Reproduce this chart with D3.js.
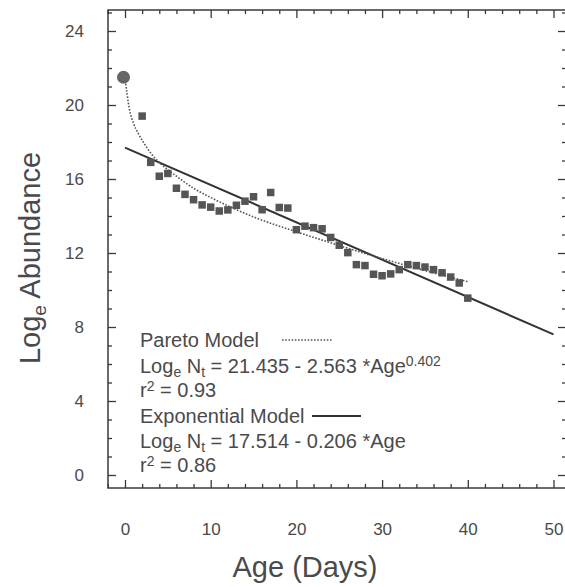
<!doctype html>
<html>
  <head>
    <meta charset="utf-8">
    <title>Log abundance vs age</title>
    <script src="https://cdnjs.cloudflare.com/ajax/libs/d3/7.8.5/d3.min.js"></script>
    <style>
      body { margin: 0; background: #fff; }
      svg { display: block; font-family: "Liberation Sans", Arial, sans-serif; }
    </style>
  </head>
  <body>
    <div id="chart"></div>
    <script>

      const days = [2,3,4,5,6,7,8,9,10,11,12,13,14,15,16,17,18,19,20,21,
                    22,23,24,25,26,27,28,29,30,31,32,33,34,35,36,37,38,39,40];
      const abundance = [19.4,16.9,16.15,16.3,15.5,15.17,14.88,14.6,14.48,14.27,
                         14.33,14.58,14.8,15.04,14.34,15.27,14.46,14.43,13.26,13.45,
                         13.37,13.31,12.84,12.42,12.02,11.37,11.32,10.85,10.77,10.87,
                         11.1,11.37,11.32,11.24,11.1,10.93,10.7,10.38,9.56];

      // initial point (circle)
      const startAge = [0];
      const startValue = [21.5];

      // Pareto model curve
      const paretoAge = [0,0.5,1,1.5,2,3,4,5,6,8,10,12,15,18,20,25,30,35,40];
      const paretoValue = [21.5,19.8,19.0,18.5,18.1,17.4,16.9,16.5,16.15,15.5,
                           15.0,14.55,13.95,13.45,13.15,12.4,11.7,11.05,10.45];

      // exponential model line
      const expAge = [0, 50];
      const expValue = [17.7, 7.6];

      // ticks
      const xMajor = [0,10,20,30,40,50];
      const xMinor = d3.range(-2, 52, 2).filter(d => d % 10 !== 0);
      const yMajor = [0,4,8,12,16,20,24];
      const yMinor = d3.range(0, 26, 1).filter(d => d % 4 !== 0);

      const W = 565, H = 587;
      const frameL = 108, frameR = 566, frameT = 10, frameB = 488;

      const svg = d3.select('#chart').append('svg')
        .attr('width', W)
        .attr('height', H);

      const x = d3.scaleLinear().domain([0, 50]).range([125, 553.5]);
      const y = d3.scaleLinear().domain([0, 24]).range([475, 31]);

      const axisColor = '#3a3a3a';
      const textColor = '#4a4a4a';

      // frame
      svg.append('rect')
        .attr('x', frameL).attr('y', frameT)
        .attr('width', frameR - frameL).attr('height', frameB - frameT)
        .attr('fill', 'none')
        .attr('stroke', axisColor)
        .attr('stroke-width', 1.5);

      function styleAxis(g) {
        g.select('.domain').remove();
        g.selectAll('line').attr('stroke', axisColor).attr('stroke-width', 1.3);
        g.selectAll('text')
          .attr('fill', textColor)
          .style('font-size', '17px')
          .style('font-family', '"Liberation Sans", Arial, sans-serif');
      }

      // left axis
      svg.append('g').attr('transform', `translate(${frameL},0)`)
        .call(d3.axisLeft(y).tickValues(yMajor).tickSizeInner(-8).tickSizeOuter(0).tickPadding(24))
        .call(styleAxis);
      svg.append('g').attr('transform', `translate(${frameL},0)`)
        .call(d3.axisLeft(y).tickValues(yMinor).tickSizeInner(-4).tickSizeOuter(0).tickFormat(''))
        .call(styleAxis);

      // right axis
      svg.append('g').attr('transform', `translate(${frameR},0)`)
        .call(d3.axisRight(y).tickValues(yMajor).tickSizeInner(-8).tickSizeOuter(0).tickFormat(''))
        .call(styleAxis);
      svg.append('g').attr('transform', `translate(${frameR},0)`)
        .call(d3.axisRight(y).tickValues(yMinor).tickSizeInner(-4).tickSizeOuter(0).tickFormat(''))
        .call(styleAxis);

      // bottom axis
      svg.append('g').attr('transform', `translate(0,${frameB})`)
        .call(d3.axisBottom(x).tickValues(xMajor).tickSizeInner(-8).tickSizeOuter(0).tickPadding(35))
        .call(styleAxis);
      svg.append('g').attr('transform', `translate(0,${frameB})`)
        .call(d3.axisBottom(x).tickValues(xMinor).tickSizeInner(-4).tickSizeOuter(0).tickFormat(''))
        .call(styleAxis);

      // top axis
      svg.append('g').attr('transform', `translate(0,${frameT})`)
        .call(d3.axisTop(x).tickValues(xMajor).tickSizeInner(-8).tickSizeOuter(0).tickFormat(''))
        .call(styleAxis);
      svg.append('g').attr('transform', `translate(0,${frameT})`)
        .call(d3.axisTop(x).tickValues(xMinor).tickSizeInner(-4).tickSizeOuter(0).tickFormat(''))
        .call(styleAxis);

      // model lines
      const line = d3.line().x(d => x(d[0])).y(d => y(d[1]));

      svg.append('path')
        .datum(expAge.map((a, i) => [a, expValue[i]]))
        .attr('d', line)
        .attr('fill', 'none')
        .attr('stroke', '#333')
        .attr('stroke-width', 2);

      svg.append('path')
        .datum(paretoAge.map((a, i) => [a, paretoValue[i]]))
        .attr('d', line.curve(d3.curveMonotoneX))
        .attr('fill', 'none')
        .attr('stroke', '#555')
        .attr('stroke-width', 1.6)
        .attr('stroke-dasharray', '1.6,1.6');

      // data squares
      const sq = 7.5;
      svg.append('g').selectAll('rect')
        .data(days.map((d, i) => [d, abundance[i]]))
        .join('rect')
        .attr('x', d => x(d[0]) - sq / 2)
        .attr('y', d => y(d[1]) - sq / 2)
        .attr('width', sq)
        .attr('height', sq)
        .attr('fill', '#555');

      svg.append('g').selectAll('circle')
        .data(startAge.map((d, i) => [d, startValue[i]]))
        .join('circle')
        .attr('cx', d => x(d[0]) - 1.5)
        .attr('cy', d => y(d[1]))
        .attr('r', 6.5)
        .attr('fill', '#666');

      // legend text
      const legend = svg.append('g')
        .attr('fill', textColor)
        .style('font-size', '20px');

      const lx = 140;
      legend.append('text').attr('x', lx).attr('y', 347).text('Pareto Model');
      legend.append('line')
        .attr('x1', 282).attr('x2', 332).attr('y1', 340).attr('y2', 340)
        .attr('stroke', '#555').attr('stroke-width', 1.6).attr('stroke-dasharray', '1.6,1.6');

      function eqLine(yy, a, b, tail) {
        const t = legend.append('text').attr('x', lx).attr('y', yy);
        t.append('tspan').text('Log');
        t.append('tspan').attr('dy', 4).style('font-size', '14px').text('e');
        t.append('tspan').attr('dy', -4).text(' N');
        t.append('tspan').attr('dy', 4).style('font-size', '14px').text('t');
        t.append('tspan').attr('dy', -4).text(` = ${a} - ${b} *Age`);
        if (tail) {
          t.append('tspan').attr('dy', -7).style('font-size', '14px').text(tail);
        }
      }
      function rLine(yy, r) {
        const t = legend.append('text').attr('x', lx).attr('y', yy);
        t.append('tspan').text('r');
        t.append('tspan').attr('dy', -6).style('font-size', '14px').text('2');
        t.append('tspan').attr('dy', 6).text(` = ${r}`);
      }

      eqLine(373, '21.435', '2.563', '0.402');
      rLine(397, '0.93');

      legend.append('text').attr('x', lx).attr('y', 423).text('Exponential Model');
      legend.append('line')
        .attr('x1', 312).attr('x2', 361).attr('y1', 416).attr('y2', 416)
        .attr('stroke', '#333').attr('stroke-width', 2);

      eqLine(448, '17.514', '0.206', null);
      rLine(472, '0.86');

      // axis titles
      svg.append('text')
        .attr('x', 305).attr('y', 577)
        .attr('text-anchor', 'middle')
        .attr('fill', textColor)
        .style('font-size', '29px')
        .text('Age (Days)');

      const yt = svg.append('text')
        .attr('transform', 'translate(40,258) rotate(-90)')
        .attr('text-anchor', 'middle')
        .attr('fill', textColor)
        .style('font-size', '29px');
      yt.append('tspan').text('Log');
      yt.append('tspan').attr('dy', 6).style('font-size', '19px').text('e');
      yt.append('tspan').attr('dy', -6).text(' Abundance');

    </script>
  </body>
</html>
